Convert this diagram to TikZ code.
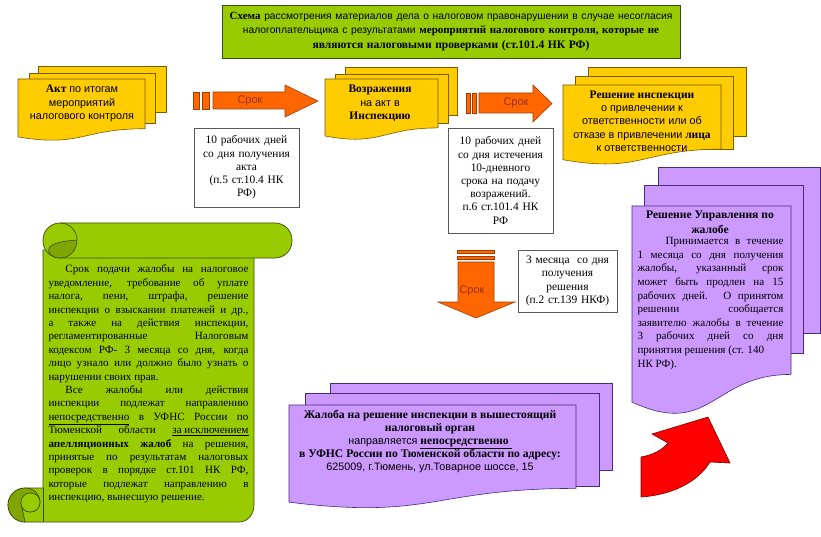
\documentclass[tikz,border=0pt]{standalone}
\usepackage{fontspec}
\setmainfont{Liberation Serif}
\setsansfont{Liberation Sans}
\definecolor{gr}{HTML}{99CC00}
\definecolor{grd}{HTML}{7FA600}
\definecolor{grb}{HTML}{3A4A10}
\definecolor{yl}{HTML}{FFCC00}
\definecolor{ylb}{HTML}{7A5C00}
\definecolor{pu}{HTML}{CC99FF}
\definecolor{pub}{HTML}{4B2A7A}
\definecolor{orr}{HTML}{FF6600}
\definecolor{orb}{HTML}{A03C00}
\definecolor{srok}{HTML}{993300}
\definecolor{redb}{HTML}{7A0000}
\newcommand\docsh[5]{\draw[#1] (#2,#3) -- (#4,#3) -- (#4,{#3+0.802*(#5-#3)}) .. controls ({(#2+#4)/2},{#3+0.802*(#5-#3)}) and ({(#2+#4)/2},{#3+1.107*(#5-#3)}) .. (#2,{#3+0.934*(#5-#3)}) -- cycle;}
\newcommand\sfb[1]{{\sffamily\fontsize{10.8}{13.3}\selectfont #1}}
\tikzset{
 tbox/.style={draw=gray!70!black, fill=white, line width=0.6pt, align=center, font=\fontsize{11.4}{13.2}\selectfont},
 yel/.style={fill=yl, draw=ylb, line width=0.6pt},
 pur/.style={fill=pu, draw=pub, line width=0.6pt},
 oar/.style={fill=orr, draw=orb, line width=0.6pt},
 srk/.style={text=srok, font=\sffamily\fontsize{11}{12}\selectfont},
 scr/.style={fill=gr, draw=grb, line width=0.7pt},
 every node/.style={inner sep=0pt}
}
\begin{document}
\begin{tikzpicture}[x=1pt,y=-1pt]
\useasboundingbox (0,0) rectangle (821,537);
\fill[white] (0,0) rectangle (821,537);

% title
\node[fill=gr, draw=grb, line width=0.7pt, text width=458pt, minimum height=53pt, align=center,
  font=\fontsize{11}{14.3}\selectfont] (title) at (451,31.5)
 {\textbf{Схема} {\sffamily\fontsize{10.3}{14.3}\selectfont рассмотрения материалов дела о налоговом правонарушении в случае несогласия}\\
  {\sffamily\fontsize{10.3}{14.3}\selectfont налогоплательщика с результатами} \textbf{мероприятий налогового контроля, которые не}\\
  \textbf{\fontsize{11.5}{14.3}\selectfont являются налоговыми проверками (ст.101.4 НК РФ)}};

% Akt stack
\draw[yel] (38,66) rectangle (166,112);
\draw[yel] (29,73) rectangle (155,123);
\docsh{yel}{18}{79}{145}{141}
\node[align=center, font=\fontsize{11.5}{13.3}\selectfont] (akt) at (82,103.5)
 {\textbf{Акт} \sfb{по итогам}\\ \sfb{мероприятий}\\ \sfb{налогового контроля}};

% Vozrazheniya stack
\draw[yel] (345,67) rectangle (457,115);
\draw[yel] (335,74) rectangle (448,123);
\docsh{yel}{325}{79}{438}{140}
\node[align=center, font=\fontsize{11.5}{13.3}\selectfont] (vozr) at (380,103.5)
 {\textbf{Возражения}\\ \sfb{на акт в}\\ \textbf{Инспекцию}};

% Reshenie inspektsii stack
\draw[yel] (588,67) rectangle (746,136);
\draw[yel] (575,76) rectangle (733,149);
\docsh{yel}{563}{85}{721}{165}
\node[align=center, font=\fontsize{11.5}{13.3}\selectfont] (resh) at (642,121)
 {\textbf{Решение инспекции}\\ \sfb{о привлечении к}\\ \sfb{ответственности или об}\\ \sfb{отказе в привлечении} \textbf{лица}\\ \sfb{к ответственности}};

% arrow 1
\draw[oar] (193,92) rectangle (199,109);
\draw[oar] (202,92) rectangle (209,109);
\draw[oar] (213,92) -- (285,92) -- (285,85) -- (318,101) -- (285,117) -- (285,109) -- (213,109) -- cycle;
\node[srk] (s1) at (250,101) {Срок};

% arrow 2
\draw[oar] (466,93) rectangle (470,113);
\draw[oar] (472,93) rectangle (476,113);
\draw[oar] (479,93) -- (533,93) -- (533,85) -- (552,103.5) -- (533,122) -- (533,113) -- (479,113) -- cycle;
\node[srk] (s2) at (516,103) {Срок};

% down arrow
\draw[oar] (457,250.5) rectangle (494,253.5);
\draw[oar] (457,256) rectangle (494,259);
\draw[oar] (458,262) -- (494,262) -- (494,302) -- (515,302) -- (476,318) -- (438,302) -- (458,302) -- cycle;
\node[srk] (s3) at (472,291) {Срок};

% text boxes
\node[tbox, minimum width=105pt, minimum height=79pt, text width=102pt] (tb1) at (246.5,167.5)
 {10 рабочих дней\\ со дня получения\\ акта\\ (п.5 ст.10.4 НК\\ РФ)};
\node[tbox, minimum width=105pt, minimum height=105pt, text width=102pt] (tb2) at (500.5,180.5)
 {10 рабочих дней\\ со дня истечения\\ 10-дневного\\ срока на подачу\\ возражений.\\ п.6 ст.101.4 НК\\ РФ};
\node[tbox, minimum width=99pt, minimum height=62pt, text width=97pt] (tb3) at (567.5,281)
 {3 месяца\ \ со дня\\ получения\\ решения\\ (п.2 ст.139 НКФ)};

% scroll
\draw[scr] (43,250) -- (254,250) -- (254,505) .. controls (254,514) and (248,522) .. (239,522) -- (25,522)
  .. controls (15.6,522) and (8,514.4) .. (8,505) .. controls (8,495.6) and (15.6,488) .. (25,488) -- (43,488) -- cycle;
\draw[fill=grd, draw=grb, line width=0.6pt] (25,522) .. controls (15.6,522) and (8,514.4) .. (8,505) .. controls (8,495.6) and (15.6,488) .. (25,488) .. controls (34,488) and (40,494) .. (40,502) .. controls (40,508) and (36,512) .. (30,512) .. controls (25,512) and (21,508) .. (21,503) -- cycle;
\draw[fill=gr, draw=grb, line width=0.6pt] (21,503) .. controls (21,497) and (25,493) .. (30,493) .. controls (36,493) and (40,497) .. (40,502) .. controls (40,508) and (36,512) .. (30,512) .. controls (25,512) and (21,508) .. (21,503);
\draw[grb, line width=0.7pt] (43,488) -- (43,522);
\draw[scr, rounded corners=17pt] (43,223) rectangle (292,258);
\draw[fill=grd, draw=grb, line width=0.6pt] (77,240) .. controls (77,250) and (70,258) .. (60,258) .. controls (52,258) and (47,253) .. (49,248) .. controls (53,242) and (66,241) .. (77,240) -- cycle;
\draw[grb, line width=0.6pt] (60,223) .. controls (70,223) and (77,231) .. (77,240);

\node[text width=200pt, align=justify, font=\fontsize{11.1}{13.4}\selectfont] (scrolltext) at (148.5,384)
 {\hspace*{17pt}Срок подачи жалобы на налоговое\linebreak
 уведомление, требование об уплате\linebreak
 налога, пени, штрафа, решение\linebreak
 инспекции о взыскании платежей и др.,\linebreak
 а также на действия инспекции,\linebreak
 регламентированные Налоговым\linebreak
 кодексом РФ- 3 месяца со дня, когда\linebreak
 лицо узнало или должно было узнать о\linebreak
 нарушении своих прав.\\
 \hspace*{17pt}Все жалобы или действия\linebreak
 инспекции подлежат направлению\linebreak
 \underline{непосредственно} в УФНС России по\linebreak
 Тюменской области \underline{за исключением}\linebreak
 \textbf{апелляционных жалоб} на решения,\linebreak
 принятые по результатам налоговых\linebreak
 проверок в порядке ст.101 НК РФ,\linebreak
 которые подлежат направлению в\linebreak
 инспекцию, вынесшую решение.};

% right purple stack
\draw[pur] (658,167) rectangle (820,333);
\draw[pur] (644,185) rectangle (803,353);
\docsh{pur}{632}{206}{791}{416}
\node[align=center, font=\bfseries\fontsize{11.6}{14.5}\selectfont] (uprt) at (710,222.5)
 {Решение Управления по\\ жалобе};
\node[text width=146pt, align=justify, font=\fontsize{11.1}{13.6}\selectfont] (uprb) at (710.5,303.5)
 {\hspace*{28pt}Принимается в течение\linebreak
 1 месяца со дня получения\linebreak
 жалобы, указанный срок\linebreak
 может быть продлен на 15\linebreak
 рабочих дней. О принятом\linebreak
 решении сообщается\linebreak
 заявителю жалобы в течение\linebreak
 3 рабочих дней со дня\linebreak
 принятия решения (ст. 140\\
 НК РФ).};

% bottom purple stack
\draw[pur] (330,383) rectangle (612,470);
\draw[pur] (305,393) rectangle (599,486);
\docsh{pur}{289}{405}{576}{509}
\node[align=center, font=\fontsize{11.6}{13.2}\selectfont] (zhal) at (430,441.5)
 {\textbf{Жалоба на решение инспекции в вышестоящий}\\
  \textbf{налоговый орган}\\
  {\sffamily\fontsize{10.8}{13.2}\selectfont направляется} \textbf{\underline{непосредственно\ }}\\
  \textbf{в УФНС России по Тюменской области по адресу:}\\
  {\sffamily\fontsize{10.8}{13.2}\selectfont 625009, г.Тюмень, ул.Товарное шоссе, 15}};

% red curved arrow
\draw[fill=red, draw=redb, line width=0.6pt] (641,457) .. controls (653,455) and (662,450) .. (668,443)
  -- (652,434) -- (708,417) -- (730,463) -- (710,462)
  .. controls (698,482) and (672,495) .. (641,497) -- cycle;
\end{tikzpicture}
\end{document}
